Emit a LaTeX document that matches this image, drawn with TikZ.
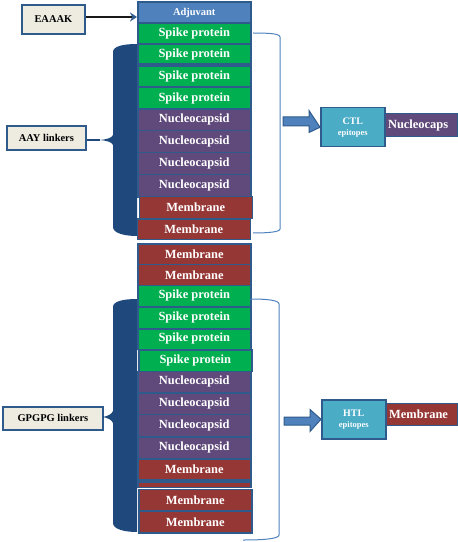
\documentclass[tikz,border=0pt]{standalone}
\usepackage{fontspec}
\setmainfont{Liberation Serif}
\usetikzlibrary{arrows.meta}
\definecolor{adjblue}{HTML}{4F81BD}
\definecolor{spkgreen}{HTML}{00B050}
\definecolor{nucpurp}{HTML}{604A7B}
\definecolor{memred}{HTML}{953735}
\definecolor{edgeblue}{HTML}{2F5B8C}
\definecolor{bracenavy}{HTML}{1F497D}
\definecolor{linkbg}{HTML}{EEECE1}
\definecolor{epiblue}{HTML}{4BACC6}
\tikzset{
  seg/.style={draw=edgeblue, line width=1.5bp, minimum width=113bp, inner sep=0pt,
    anchor=north west, text=white, font=\bfseries\fontsize{12.5}{12.5}\selectfont},
  adjseg/.style={seg, fill=adjblue, font=\bfseries\fontsize{10.5}{10.5}\selectfont},
  spk/.style={seg, fill=spkgreen},
  nuc/.style={seg, fill=nucpurp},
  mem/.style={seg, fill=memred},
  linkbox/.style={draw=edgeblue, line width=1.8bp, fill=linkbg, inner sep=0pt,
    anchor=north west, text=black, font=\bfseries\fontsize{10.5}{10.5}\selectfont},
  epibox/.style={draw=edgeblue, line width=1.5bp, fill=epiblue, inner sep=0pt,
    anchor=north west, text=white, minimum width=64bp, minimum height=39bp, align=center},
  tagbox/.style={draw=edgeblue, line width=1.2bp, inner sep=0pt, anchor=north west,
    text=white, font=\bfseries\fontsize{12.5}{12.5}\selectfont},
  bracket/.style={draw=adjblue, line width=1bp},
  blockarrow/.style={fill=adjblue, draw=edgeblue, line width=1bp},
}
\begin{document}
\begin{tikzpicture}[x=1bp,y=-1bp]
\useasboundingbox (0,0) rectangle (458,542);

% left braces
\fill[bracenavy] (137,44) .. controls (124,44) and (113,46) .. (113,52) -- (113,135)
  .. controls (112,138) and (106,139.5) .. (100,140)
  .. controls (106,140.5) and (112,142) .. (113,145) -- (113,227)
  .. controls (113,233) and (124,236) .. (137,236) -- cycle;
\coordinate (tipA) at (100,140);
\fill[bracenavy] (137,299) .. controls (124,299) and (113,301) .. (113,307) -- (113,411)
  .. controls (112,414) and (108,416) .. (103,417)
  .. controls (108,418) and (112,420) .. (113,423) -- (113,523)
  .. controls (113,529) and (124,532) .. (137,532) -- cycle;
\coordinate (tipB) at (103,417);

% upper column
\node[adjseg, minimum height=21bp]   (adj) at (137,1.5) {Adjuvant};
\node[spk, minimum height=20.5bp]    (s1) at (137,23) {Spike protein};
\node[spk, minimum height=20bp]      (s2) at (137,43.5) {Spike protein};
\node[spk, minimum height=20.5bp]    (s3) at (137,65.5) {Spike protein};
\node[spk, minimum height=21bp]      (s4) at (137,87) {Spike protein};
\node[nuc, minimum height=21.5bp]    (n1) at (137,108.5) {Nucleocapsid};
\node[nuc, minimum height=22bp]      (n2) at (137,130) {Nucleocapsid};
\node[nuc, minimum height=22bp]      (n3) at (137,152) {Nucleocapsid};
\node[nuc, minimum height=22bp]      (n4) at (137,174) {Nucleocapsid};
\node[mem, minimum height=21.5bp]    (m1) at (138.5,196) {Membrane};
\node[mem, minimum height=20.5bp]    (m2) at (136.5,218) {Membrane};

% lower column
\node[mem, minimum height=20.5bp]    (m3) at (137,243) {Membrane};
\node[mem, minimum height=21bp]      (m4) at (137,263.5) {Membrane};
\node[spk, minimum height=21.5bp]    (s5) at (137,284.5) {Spike protein};
\node[spk, minimum height=22bp]      (s6) at (137,306) {Spike protein};
\node[spk, minimum height=20.5bp]    (s7) at (137,328) {Spike protein};
\node[spk, minimum height=21.5bp]    (s8) at (138,349) {Spike protein};
\node[nuc, minimum height=21.5bp]    (n5) at (137,370.5) {Nucleocapsid};
\node[nuc, minimum height=21.5bp]    (n6) at (137,392) {Nucleocapsid};
\node[nuc, minimum height=22.5bp]    (n7) at (137,413.5) {Nucleocapsid};
\node[nuc, minimum height=22bp]      (n8) at (137,436) {Nucleocapsid};
\node[mem, minimum height=21bp]      (m5) at (137,458) {Membrane};
\node[mem, minimum height=5.5bp]     (strip) at (137,481) {};
\node[mem, minimum height=21.5bp]    (m6) at (138,488.5) {Membrane};
\node[mem, minimum height=22bp]      (m7) at (138,510) {Membrane};

% linker labels
\node[linkbox, minimum width=63bp, minimum height=29bp] (eaaak) at (21,4) {EAAAK};
\node[linkbox, minimum width=79bp, minimum height=24bp] (aay) at (6,125.5) {AAY linkers};
\node[linkbox, minimum width=100bp, minimum height=23bp] (gpgpg) at (2,406) {GPGPG linkers};

\draw[line width=2.5bp, black!90, -{Stealth[length=7bp,width=9bp,color=edgeblue]}]
  (eaaak.east |- 0,17) -- (adj.west |- 0,17);
\draw[bracenavy, line width=1.2bp] (aay.east |- tipA) -- (tipA);
\draw[bracenavy, line width=1.2bp] (gpgpg.east |- tipB) -- (tipB);

% right brackets
\coordinate (bA1) at (253,33);
\coordinate (bA2) at (253,233);
\draw[bracket] (bA1) .. controls (268,33) and (280,33.5) .. (280,37) -- (280,229)
  .. controls (280,232) and (268,233) .. (bA2);
\coordinate (bB1) at (250,299);
\coordinate (bB2) at (243,540);
\draw[bracket] (bB1) .. controls (266,299) and (279,300) .. (279,304) -- (279,535)
  .. controls (279,539) and (262,540) .. (bB2);

% epitope summaries
\node[tagbox, fill=nucpurp, minimum width=73bp, minimum height=23bp] (ncap) at (384,113)
  {\hspace*{-6bp}Nucleocaps};
\node[epibox] (ctl) at (320,107)
  {{\bfseries\fontsize{10}{11}\selectfont CTL}\\[-1bp]{\bfseries\fontsize{8.5}{10}\selectfont epitopes}};
\node[tagbox, fill=memred, minimum width=72bp, minimum height=22bp] (hmem) at (385,403)
  {\hspace*{-6bp}Membrane};
\node[epibox] (htl) at (321,399)
  {{\bfseries\fontsize{10}{11}\selectfont HTL}\\[-1bp]{\bfseries\fontsize{8.5}{10}\selectfont epitopes}};

% block arrows
\draw[blockarrow] (283,117) -- (309,117) -- (309,110.5) -- (ctl.west) -- (309,132.5)
  -- (309,126) -- (283,126) -- cycle;
\draw[blockarrow] (284,417) -- (310,417) -- (310,409.5) -- (htl.west) -- (310,431.5)
  -- (310,425) -- (284,425) -- cycle;
\end{tikzpicture}
\end{document}
